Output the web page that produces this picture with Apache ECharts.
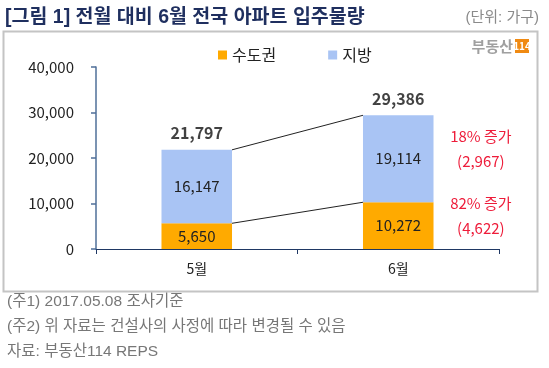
<!DOCTYPE html>
<html><head><meta charset="utf-8">
<script src="https://cdn.jsdelivr.net/npm/echarts@6/dist/echarts.min.js"></script>
<style>html,body{margin:0;padding:0;background:#fff}#c{width:549px;height:368px}</style>
</head><body><div id="c"></div>
<script>
const categories = ['5월', '6월'];
const seriesNames = ['수도권', '지방'];
const capital = [5650, 10272];
const region = [16147, 19114];
const yTicks = [0, 10000, 20000, 30000, 40000];
const notes = ['(주1) 2017.05.08 조사기준', '(주2) 위 자료는 건설사의 사정에 따라 변경될 수 있음', '자료: 부동산114 REPS'];

const totals = capital.map((v, i) => v + region[i]);
const fmt = v => v.toLocaleString('en-US');
const growth = (a, b) => Math.round((b - a) / a * 100) + '% 증가';
const annotations = [
  { anchor: capital[1] + region[1] / 2, l1: growth(region[0], region[1]), l2: '(' + fmt(region[1] - region[0]) + ')' },
  { anchor: capital[1] / 2, l1: growth(capital[0], capital[1]), l2: '(' + fmt(capital[1] - capital[0]) + ')' }
];
const FONT = "'Noto Sans CJK KR', 'Noto Sans', sans-serif";
const WFONT = "'Liberation Sans', 'Noto Sans CJK KR', sans-serif";

const chart = echarts.init(document.getElementById('c'), null, { renderer: 'canvas' });
chart.setOption({
  animation: false,
  backgroundColor: '#fff',
  textStyle: { fontFamily: FONT },
  grid: { left: 96, right: 50, top: 67, bottom: 119 },
  legend: {
    data: seriesNames, left: 213, top: 42, icon: 'rect', itemWidth: 9, itemHeight: 9, itemGap: 52,
    textStyle: { fontSize: 16, color: '#222', fontFamily: FONT }
  },
  xAxis: {
    type: 'category', data: categories,
    axisLine: { lineStyle: { color: '#1f3864', width: 1 } },
    axisTick: { show: true, length: 5, lineStyle: { color: '#1f3864' } },
    axisLabel: { fontSize: 14, color: '#222', margin: 13, fontFamily: FONT }
  },
  yAxis: {
    type: 'value', min: yTicks[0], max: yTicks[yTicks.length - 1], interval: yTicks[1] - yTicks[0],
    axisLine: { show: true, lineStyle: { color: '#4f6f99', width: 1.5 } },
    axisTick: { show: true, length: 5, lineStyle: { color: '#4f6f99', width: 1.5 } },
    splitLine: { show: false },
    axisLabel: { fontSize: 15, color: '#222', margin: 22, fontFamily: FONT, formatter: v => fmt(v) }
  },
  series: [
    {
      name: seriesNames[0], type: 'bar', stack: 'a', data: capital, barWidth: '35%',
      itemStyle: { color: '#FFAA00' },
      label: { show: true, position: 'inside', fontSize: 15, color: '#222', formatter: p => fmt(p.value) }
    },
    {
      name: seriesNames[1], type: 'bar', stack: 'a', data: region, barWidth: '35%',
      itemStyle: { color: '#A9C4F4' },
      label: { show: true, position: 'inside', fontSize: 15, color: '#222', formatter: p => fmt(p.value) }
    },
    {
      name: 'total', type: 'scatter', data: totals, symbolSize: 1, itemStyle: { color: 'rgba(0,0,0,0)' },
      label: { show: true, position: 'top', distance: 8, fontSize: 16, fontWeight: 'bold', color: '#111', formatter: p => fmt(p.value) },
      silent: true
    },
    {
      name: 'connectors', type: 'custom', silent: true,
      data: [[0, totals[0], 1, totals[1]], [0, capital[0], 1, capital[1]]],
      encode: { x: 0, y: 1 },
      renderItem: (params, api) => {
        const p1 = api.coord([api.value(0), api.value(1)]);
        const p2 = api.coord([api.value(2), api.value(3)]);
        const half = api.size([1, 0])[0] * 0.35 / 2;
        return { type: 'line', shape: { x1: p1[0] + half, y1: p1[1], x2: p2[0] - half, y2: p2[1] }, style: { stroke: '#222', lineWidth: 1 } };
      }
    },
    {
      name: 'notes', type: 'custom', silent: true,
      data: annotations.map(a => [1, a.anchor]),
      encode: { x: 0, y: 1 },
      renderItem: (params, api) => {
        const a = annotations[params.dataIndex];
        const p = api.coord([api.value(0), api.value(1)]);
        const x = p[0] + api.size([1, 0])[0] * 0.41;
        const st = { fill: '#EE1C3A', font: '15px ' + FONT, textAlign: 'center', textVerticalAlign: 'middle' };
        return { type: 'group', children: [
          { type: 'text', x: x, y: p[1] - 22, style: Object.assign({ text: a.l1 }, st) },
          { type: 'text', x: x, y: p[1] + 3, style: Object.assign({ text: a.l2 }, st) }
        ] };
      }
    }
  ],
  graphic: [
    { type: 'rect', shape: { x: 3.5, y: 31.5, width: 534, height: 260 }, style: { fill: 'none', stroke: '#c4c4c4', lineWidth: 2 }, silent: true },
    { type: 'text', x: 5, y: 18, style: { text: '[그림 1] 전월 대비 6월 전국 아파트 입주물량', font: 'bold 19.5px ' + WFONT, fill: '#1F2F5F', textVerticalAlign: 'middle' } },
    { type: 'text', x: 539, y: 18, style: { text: '(단위: 가구)', font: '15px ' + WFONT, fill: '#8a8a8a', textAlign: 'right', textVerticalAlign: 'middle' } },
    { type: 'text', x: 513, y: 46, style: { text: '부동산', font: 'bold 15px ' + FONT, fill: '#a0a0a0', textAlign: 'right', textVerticalAlign: 'middle' } },
    { type: 'rect', shape: { x: 515, y: 39, width: 14, height: 14 }, style: { fill: '#F08A12' } },
    { type: 'text', x: 522, y: 46, style: { text: '114', font: 'bold 10px ' + FONT, fill: '#fff', textAlign: 'center', textVerticalAlign: 'middle' } },
    { type: 'text', x: 7, y: 302, style: { text: notes[0], font: '15.5px ' + WFONT, fill: '#777', textVerticalAlign: 'middle' } },
    { type: 'text', x: 7, y: 327, style: { text: notes[1], font: '15.5px ' + WFONT, fill: '#777', textVerticalAlign: 'middle' } },
    { type: 'text', x: 7, y: 352, style: { text: notes[2], font: '15.5px ' + WFONT, fill: '#777', textVerticalAlign: 'middle' } }
  ]
});
</script></body></html>
